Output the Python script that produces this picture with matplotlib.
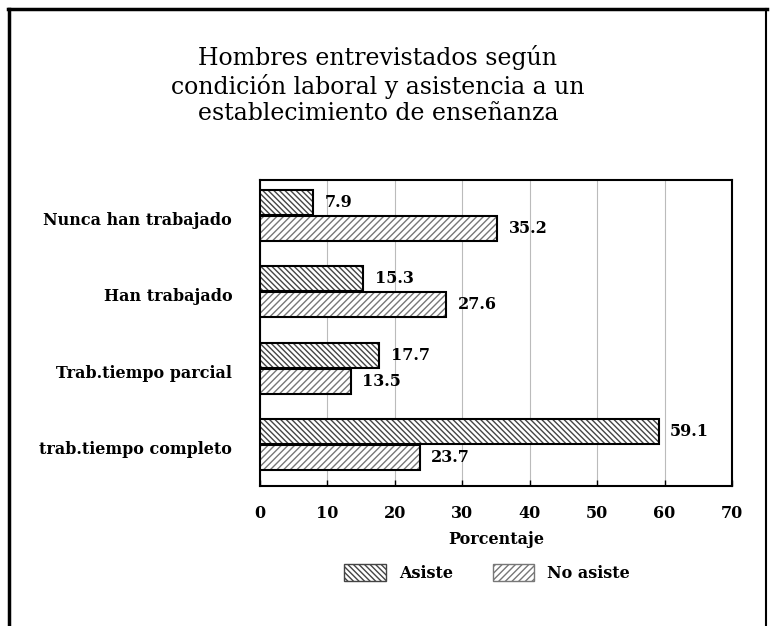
import matplotlib
matplotlib.use("Agg")
import matplotlib.pyplot as plt
from matplotlib.patches import Patch
from matplotlib.lines import Line2D
import numpy as np

categories = ["Nunca han trabajado", "Han trabajado", "Trab.tiempo parcial", "trab.tiempo completo"]
asiste = [7.9, 15.3, 17.7, 59.1]
no_asiste = [35.2, 27.6, 13.5, 23.7]
xticks = [0, 10, 20, 30, 40, 50, 60, 70]
title = "Hombres entrevistados según\ncondición laboral y asistencia a un\nestablecimiento de enseñanza"

W, H = 773, 626
fig = plt.figure(figsize=(W / 100, H / 100), dpi=100)
fig.patch.set_facecolor("white")

# outer frame (top, left, right)
fig.add_artist(Line2D([8 / W, 767 / W], [1 - 9 / H, 1 - 9 / H], color="black", lw=2.5, transform=fig.transFigure))
fig.add_artist(Line2D([9 / W, 9 / W], [0, 1 - 9 / H], color="black", lw=2.5, transform=fig.transFigure))
fig.add_artist(Line2D([766 / W, 766 / W], [0, 1 - 9 / H], color="black", lw=1.5, transform=fig.transFigure))

ax_l, ax_r, ax_t, ax_b = 260, 732, 180, 486
ax = fig.add_axes([ax_l / W, 1 - ax_b / H, (ax_r - ax_l) / W, (ax_b - ax_t) / H])

y = np.arange(len(categories))
h = 0.33
off = 0.17
ya = y - off - 0.04
yn = y + off - 0.04

# hatched fills (gray hatch) then black outlines
ax.barh(ya, asiste, height=h, color="white", edgecolor="#444444", hatch="\\\\\\\\\\\\", linewidth=0, zorder=3)
ax.barh(yn, no_asiste, height=h, color="white", edgecolor="#777777", hatch="/////", linewidth=0, zorder=3)
ax.barh(ya, asiste, height=h, fill=False, edgecolor="black", linewidth=1.5, zorder=4)
ax.barh(yn, no_asiste, height=h, fill=False, edgecolor="black", linewidth=1.5, zorder=4)

lab_font = dict(family="DejaVu Serif", fontweight="bold", fontsize=11.5)
for yy, v in zip(ya, asiste):
    ax.text(v + 1.7, yy, f"{v:.1f}", va="center", ha="left", **lab_font)
for yy, v in zip(yn, no_asiste):
    ax.text(v + 1.7, yy, f"{v:.1f}", va="center", ha="left", **lab_font)

ax.set_xlim(0, 70)
ax.set_ylim(len(categories) - 0.5, -0.5)
ax.set_xticks(xticks)
ax.set_xticklabels([str(t) for t in xticks], **lab_font)
ax.set_yticks(y)
ax.set_yticklabels(categories, **lab_font)
ax.tick_params(axis="y", length=0, pad=20)
ax.tick_params(axis="x", direction="in", length=4, pad=14, width=1)
ax.xaxis.grid(True, color="#bbbbbb", linewidth=0.8, zorder=0)
for s in ax.spines.values():
    s.set_linewidth(1.5)
ax.set_xlabel("Porcentaje", labelpad=6, **lab_font)

fig.text(378 / W, 1 - 45 / H, title, ha="center", va="top", family="DejaVu Serif", fontsize=17, linespacing=1.18)

handles = [
    Patch(facecolor="white", edgecolor="#444444", hatch="\\\\\\\\\\\\", label="Asiste"),
    Patch(facecolor="white", edgecolor="#777777", hatch="/////", label="No asiste"),
]
leg = fig.legend(handles=handles, loc="center", bbox_to_anchor=(487 / W, 1 - 573 / H), ncol=2, frameon=False,
                 prop=dict(family="DejaVu Serif", weight="bold", size=11.5), handlelength=2.6, handleheight=1.2,
                 columnspacing=2.5)

fig.savefig("out.png", dpi=100, facecolor="white")
